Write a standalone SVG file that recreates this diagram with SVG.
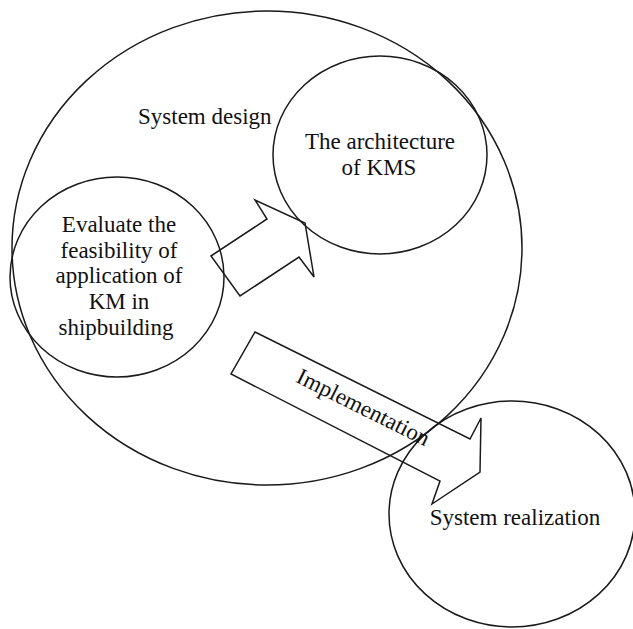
<svg xmlns="http://www.w3.org/2000/svg" width="633" height="629" viewBox="0 0 633 629">
<style>
.sh{fill:none;stroke:#1a1a1a;stroke-width:1.5;stroke-linejoin:miter}
text{font-family:"Liberation Serif","Times New Roman",serif;font-size:23px;fill:#111}
.c{text-anchor:middle}
</style>
<rect width="633" height="629" fill="#fff"/>
<g id="system-design">
<ellipse class="sh" cx="267" cy="248" rx="255" ry="237"/>
<text x="138" y="124">System design</text>
</g>
<g id="evaluate">
<ellipse class="sh" cx="117" cy="277" rx="107" ry="100"/>
<text class="c" x="119" y="232">Evaluate the</text>
<text class="c" x="119" y="258">feasibility of</text>
<text class="c" x="119" y="283">application of</text>
<text class="c" x="119" y="309">KM in</text>
<text class="c" x="116" y="335">shipbuilding</text>
</g>
<g id="kms">
<ellipse class="sh" cx="380" cy="155" rx="107" ry="99"/>
<text class="c" x="380" y="149">The architecture</text>
<text class="c" x="379" y="175">of KMS</text>
</g>
<g id="realization">
<ellipse class="sh" cx="512" cy="514" rx="123" ry="113"/>
<text class="c" x="515" y="525">System realization</text>
</g>
<g id="connectors">
<polygon class="sh" points="211,256 267,219 255,200 305,223 314,277 299,257 240,296"/>
<polygon class="sh" points="255,332 470,439 481,418 480,472 432,504 440,481 231,374"/>
<text class="c" x="360" y="414" transform="rotate(26.5 360 414)">Implementation</text>
</g>
</svg>
